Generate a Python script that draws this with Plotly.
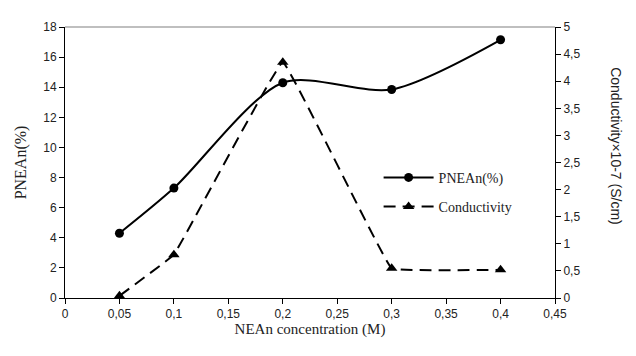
import plotly.graph_objects as go

x_vals = [0.05, 0.1, 0.2, 0.3, 0.4]
pnean = [4.3, 7.3, 14.3, 13.85, 17.15]
conductivity = [0.04, 0.8, 4.35, 0.55, 0.52]
x_ticks = [0, 0.05, 0.1, 0.15, 0.2, 0.25, 0.3, 0.35, 0.4, 0.45]
x_tick_labels = ["0", "0,05", "0,1", "0,15", "0,2", "0,25", "0,3", "0,35", "0,4", "0,45"]
y1_ticks = list(range(0, 19, 2))
y2_ticks = [0, 0.5, 1, 1.5, 2, 2.5, 3, 3.5, 4, 4.5, 5]
y2_tick_labels = ["0", "0,5", "1", "1,5", "2", "2,5", "3", "3,5", "4", "4,5", "5"]

fig = go.Figure()
fig.add_trace(go.Scatter(
    x=x_vals, y=pnean, name="PNEAn(%)", mode="lines+markers", legendgroup="a",
    line=dict(color="black", width=2, shape="spline", smoothing=0.8),
    marker=dict(symbol="circle", size=9, color="black"),
))
fig.add_trace(go.Scatter(
    x=x_vals, y=conductivity, name="Conductivity", mode="lines+markers", legendgroup="b",
    line=dict(color="black", width=2, dash="12px,7px", shape="spline", smoothing=0.15),
    marker=dict(symbol="triangle-up", size=10, color="black"),
    yaxis="y2",
))

tick_font = dict(family="Liberation Sans, Arial", size=12, color="#222")

fig.update_layout(
    width=636, height=356,
    margin=dict(l=55, r=89, t=12, b=66),
    paper_bgcolor="white", plot_bgcolor="white",
    showlegend=True,
    legend=dict(x=0.64, y=0.39, xanchor="left", yanchor="middle", itemwidth=50,
                font=dict(family="Liberation Serif", size=14, color="#222"),
                bgcolor="rgba(0,0,0,0)", tracegroupgap=8),
    xaxis=dict(range=[0, 0.45], tickvals=x_ticks, ticktext=x_tick_labels,
               showgrid=False, zeroline=False, showline=True, linecolor="black", linewidth=1,
               ticks="outside", ticklen=5, tickcolor="black", tickfont=tick_font,
               title=dict(text="NEAn concentration (M)",
                          font=dict(family="Liberation Serif", size=15, color="#222"),
                          standoff=2)),
    yaxis=dict(range=[0, 18], tickvals=y1_ticks, showgrid=False, zeroline=False,
               showline=True, linecolor="black", linewidth=1,
               ticks="outside", ticklen=5, tickcolor="black", tickfont=tick_font,
               title=dict(text="PNEAn(%)",
                          font=dict(family="Liberation Serif", size=16, color="#222"),
                          standoff=12)),
    yaxis2=dict(range=[0, 5], tickvals=y2_ticks, ticktext=y2_tick_labels,
                overlaying="y", side="right", showgrid=False, zeroline=False,
                showline=True, linecolor="black", linewidth=1,
                ticks="outside", ticklen=5, tickcolor="black", tickfont=tick_font),
    shapes=[dict(type="line", xref="paper", yref="paper", x0=0, x1=1, y0=1, y1=1,
                 line=dict(color="#aaa", width=1.5))],
    annotations=[dict(text="Conductivity×10-7 (S/cm)", xref="paper", yref="paper",
                      x=1.145, y=0.56, showarrow=False, textangle=90,
                      font=dict(family="Liberation Sans, Arial", size=14, color="#222"))],
)

fig.write_html("out.html")
